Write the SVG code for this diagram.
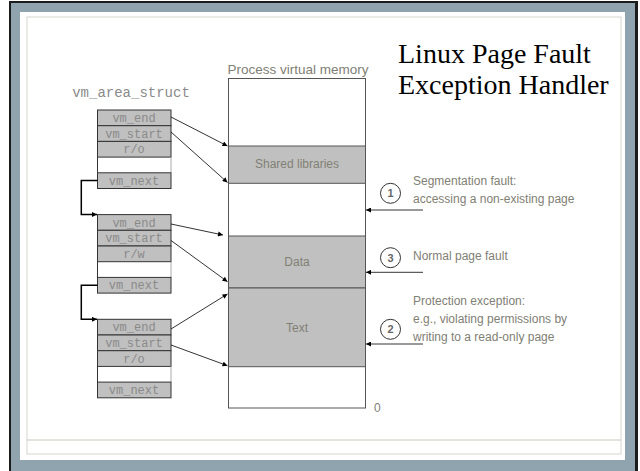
<svg xmlns="http://www.w3.org/2000/svg" width="640" height="471" viewBox="0 0 640 471">
<defs>
<marker id="ah" viewBox="0 0 10 10" refX="10" refY="5" markerWidth="6" markerHeight="5" markerUnits="userSpaceOnUse" orient="auto">
<path d="M0,0 L10,5 L0,10 z" fill="#000"/>
</marker>
<style>
.row{fill:#c0c0c0;stroke:#333;stroke-width:1}
.mono{font-family:"Liberation Mono","Courier New",monospace;font-size:12px;fill:#8a8a8a;text-anchor:middle}
.sans{font-family:"Liberation Sans",Arial,sans-serif;fill:#808074}
.reg{fill:#c0c0c0;stroke:#555;stroke-width:1}
.conn{fill:none;stroke:#000;stroke-width:0.8;marker-end:url(#ah)}
.chain{fill:none;stroke:#000;stroke-width:1.5;marker-end:url(#ah)}
.num{fill:#fff;stroke:#333;stroke-width:1}
.numt{font-family:"Liberation Sans",Arial,sans-serif;font-size:11px;font-weight:bold;fill:#666;text-anchor:middle}
</style>
</defs>
<!-- frame -->
<rect x="9" y="1" width="629" height="480" fill="#1c1c1c"/>
<rect x="11" y="3" width="624" height="478" fill="#8fa4af"/>
<rect x="20" y="12" width="605" height="448" fill="#fff"/>
<rect x="27" y="17" width="594" height="437" fill="#fff" stroke="#d6d6ce" stroke-width="1"/>
<line x1="27" y1="440" x2="621" y2="440" stroke="#c8c8c0" stroke-width="1"/>

<g id="title">
<text x="398" y="63" font-family="Liberation Serif,'Times New Roman',serif" font-size="28" fill="#000">Linux Page Fault</text>
<text x="398" y="94" font-family="Liberation Serif,'Times New Roman',serif" font-size="28" fill="#000">Exception Handler</text>
</g>

<g id="vm-area-struct-label">
<text x="131" y="97" font-family="Liberation Mono,'Courier New',monospace" font-size="14" fill="#8a8a8a" text-anchor="middle">vm_area_struct</text>
</g>

<g id="struct1">
<rect class="row" x="97.5" y="110" width="73.5" height="15.7"/>
<rect class="row" x="97.5" y="125.7" width="73.5" height="15.7"/>
<rect class="row" x="97.5" y="141.4" width="73.5" height="15.7"/>
<line x1="97.5" y1="157.1" x2="97.5" y2="172.8" stroke="#333"/>
<line x1="171" y1="157.1" x2="171" y2="172.8" stroke="#aaa"/>
<rect class="row" x="97.5" y="172.8" width="73.5" height="15.7"/>
<text class="mono" x="134" y="122">vm_end</text>
<text class="mono" x="134" y="137.7">vm_start</text>
<text class="mono" x="134" y="153.4">r/o</text>
<text class="mono" x="134" y="184.8">vm_next</text>
</g>

<g id="struct2">
<rect class="row" x="97.5" y="214.6" width="73.5" height="15.7"/>
<rect class="row" x="97.5" y="230.3" width="73.5" height="15.7"/>
<rect class="row" x="97.5" y="246" width="73.5" height="15.7"/>
<line x1="97.5" y1="261.7" x2="97.5" y2="277.4" stroke="#333"/>
<line x1="171" y1="261.7" x2="171" y2="277.4" stroke="#aaa"/>
<rect class="row" x="97.5" y="277.4" width="73.5" height="15.7"/>
<text class="mono" x="134" y="226.6">vm_end</text>
<text class="mono" x="134" y="242.3">vm_start</text>
<text class="mono" x="134" y="258">r/w</text>
<text class="mono" x="134" y="289.4">vm_next</text>
</g>

<g id="struct3">
<rect class="row" x="97.5" y="319.3" width="73.5" height="15.7"/>
<rect class="row" x="97.5" y="335" width="73.5" height="15.7"/>
<rect class="row" x="97.5" y="350.7" width="73.5" height="15.7"/>
<line x1="97.5" y1="366.4" x2="97.5" y2="382.1" stroke="#333"/>
<line x1="171" y1="366.4" x2="171" y2="382.1" stroke="#aaa"/>
<rect class="row" x="97.5" y="382.1" width="73.5" height="15.7"/>
<text class="mono" x="134" y="331.3">vm_end</text>
<text class="mono" x="134" y="347">vm_start</text>
<text class="mono" x="134" y="362.7">r/o</text>
<text class="mono" x="134" y="394.1">vm_next</text>
</g>

<g id="memory">
<text class="sans" x="298" y="74" font-size="13.5" text-anchor="middle">Process virtual memory</text>
<rect x="228.5" y="78.5" width="137" height="329.5" fill="#fff" stroke="#555" stroke-width="1"/>
<rect class="reg" x="228.5" y="146" width="137" height="37.3"/>
<rect class="reg" x="228.5" y="236" width="137" height="52"/>
<rect class="reg" x="228.5" y="288" width="137" height="78.7"/>
<text class="sans" x="297" y="168" font-size="12" text-anchor="middle">Shared libraries</text>
<text class="sans" x="297" y="266" font-size="12" text-anchor="middle">Data</text>
<text class="sans" x="297" y="332" font-size="12" text-anchor="middle">Text</text>
<text class="sans" x="374" y="412" font-size="12">0</text>
</g>

<g id="fault1">
<circle class="num" cx="390.5" cy="193.3" r="10"/>
<text class="numt" x="390.5" y="197.3">1</text>
<text class="sans" x="413" y="185" font-size="12">Segmentation fault:</text>
<text class="sans" x="413" y="203" font-size="12">accessing a non-existing page</text>
</g>
<g id="fault3">
<circle class="num" cx="390.5" cy="257.7" r="10"/>
<text class="numt" x="390.5" y="261.7">3</text>
<text class="sans" x="413" y="260" font-size="12">Normal page fault</text>
</g>
<g id="fault2">
<circle class="num" cx="390.5" cy="329.3" r="10"/>
<text class="numt" x="390.5" y="333.3">2</text>
<text class="sans" x="413" y="305" font-size="12">Protection exception:</text>
<text class="sans" x="413" y="323" font-size="12">e.g., violating permissions by</text>
<text class="sans" x="413" y="341" font-size="12">writing to a read-only page</text>
</g>

<g id="connectors">
<path class="conn" d="M171,117 L227.5,146"/>
<path class="conn" d="M171,132 L227.5,182.5"/>
<path class="conn" d="M171,224 L223,235"/>
<path class="conn" d="M171,240.5 L227.5,281.7"/>
<path class="conn" d="M171,329 L227.5,294"/>
<path class="conn" d="M171,345 L227.5,365.7"/>
<path class="chain" d="M97.5,180.6 H81.3 V214.5 H97"/>
<path class="chain" d="M97.5,285.2 H81.3 V319.3 H97"/>
<path class="conn" d="M423,210 H366"/>
<path class="conn" d="M423,272.3 H366"/>
<path class="conn" d="M423,344 H366"/>
</g>
</svg>
